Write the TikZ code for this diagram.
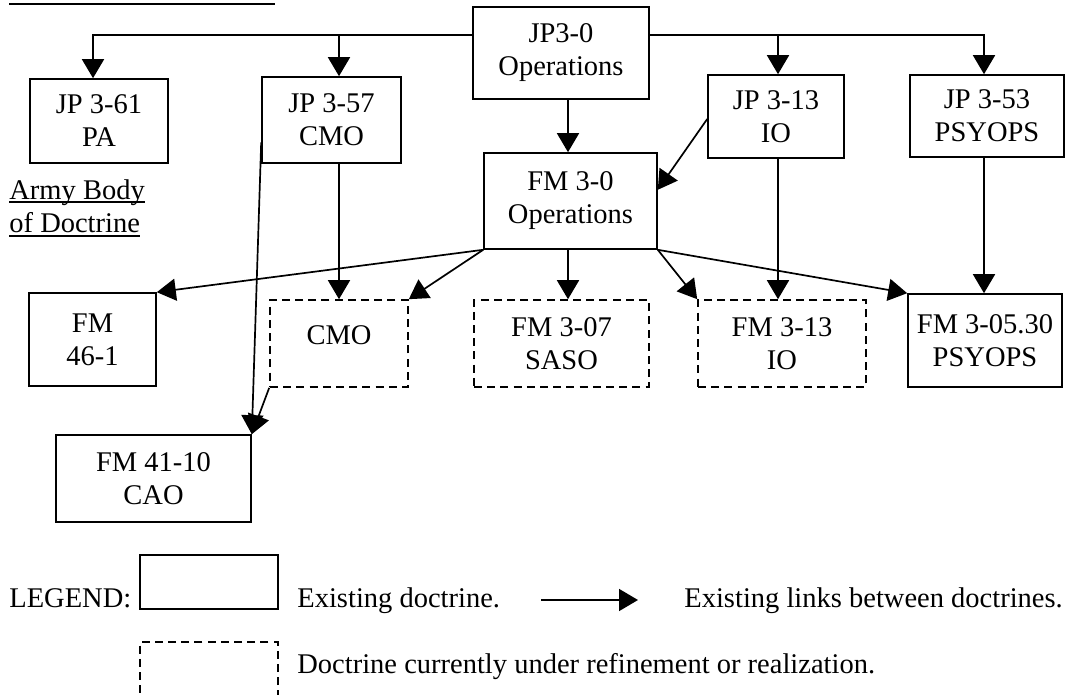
\documentclass[tikz,border=0pt]{standalone}
\usepackage{fontspec}
\setmainfont{Liberation Serif}
\usetikzlibrary{arrows.meta,calc}
\begin{document}
\begin{tikzpicture}[x=0.5pt,y=-0.5pt,
  every node/.style={font=\fontsize{14.25}{16.5}\selectfont, inner sep=0pt},
  bx/.style 2 args={minimum width=#1*0.5pt, minimum height=#2*0.5pt},
  sbox/.style={draw, line width=0.8pt, align=center},
  dbox/.style={sbox, dash pattern=on 4pt off 2.6pt},
  arr/.style={line width=0.85pt, -{Triangle[length=9.5pt,width=11pt]}},
  ln/.style={line width=0.8pt},
  lbl/.style={anchor=base west}]
\useasboundingbox (0,0) rectangle (1080,695);
\clip (0,0) rectangle (1080,695);

% boxes
\node[sbox,bx={176}{92}] (jp30) at (561,53) {JP3-0\\Operations};
\node[sbox,bx={138}{84}] (jp361) at (99,121) {JP 3-61\\PA};
\node[sbox,bx={139}{86}] (jp357) at (331.5,120) {JP 3-57\\CMO};
\node[sbox,bx={136}{83}] (jp313) at (776,116.5) {JP 3-13\\IO};
\node[sbox,bx={154}{82}] (jp353) at (987,116) {JP 3-53\\PSYOPS};
\node[sbox,bx={173}{96}] (fm30) at (570.5,201) {FM 3-0\\Operations};
\node[sbox,bx={127}{93}] (fm461) at (92.5,339.5) {FM\\46-1};
\node[dbox,bx={138}{87}] (cmo) at (339,343.5) {};
\node (cmot) at (339,335) {CMO};
\node[dbox,bx={175}{87}] (fm307) at (561.5,343.5) {FM 3-07\\SASO};
\node[dbox,bx={168}{87}] (fm313) at (782,343.5) {FM 3-13\\IO};
\node[sbox,bx={154}{93}] (fm30530) at (985,340.5) {FM 3-05.30\\PSYOPS};
\node[sbox,bx={195}{87}] (fm4110) at (153.5,478.5) {FM 41-10\\CAO};

% top bus
\coordinate (tl) at (93,35);
\coordinate (tr) at (984,35);
\coordinate (c357) at (339,35);
\coordinate (c313) at (778,35);
\coordinate (c30) at (568,0);
\draw[arr] (jp30.west |- tl) -- (tl) -- (tl |- jp361.north);
\draw[arr] (jp30.east |- tr) -- (tr) -- (tr |- jp353.north);
\draw[arr] (c357) -- (c357 |- jp357.north);
\draw[arr] (c313) -- (c313 |- jp313.north);
\draw[arr] (c30 |- jp30.south) -- (c30 |- fm30.north);
\draw[arr] ($(jp313.north west)!0.53!(jp313.south west)$) -- ($(fm30.north east)!0.385!(fm30.south east)$);

% from FM 3-0
\draw[arr] (fm30.south west) -- (fm461.north east);
\draw[arr] (fm30.south west) -- (cmo.north east);
\draw[arr] (c30 |- fm30.south) -- (c30 |- fm307.north);
\draw[arr] (fm30.south east) -- (fm313.north west);
\draw[arr] (fm30.south east) -- (fm30530.north west);

% from joint pubs down
\draw[arr] (c357 |- jp357.south) -- (c357 |- cmo.north);
\draw[arr] (c313 |- jp313.south) -- (c313 |- fm313.north);
\draw[arr] (tr |- jp353.south) -- (tr |- fm30530.north);
\draw[arr] ($(jp357.north west)!0.756!(jp357.south west)$) -- (fm4110.north east);
\draw[arr] (cmo.south west) -- (fm4110.north east);

% underlined headings
\draw[ln] (9,4) -- (275,4);
\node[lbl] (army1) at (9,199) {Army Body};
\node[lbl] (army2) at (9,233) {of Doctrine};
\draw[ln] ([yshift=-1.5pt]army1.base west) -- ([yshift=-1.5pt]army1.base east);
\draw[ln] ([yshift=-1.5pt]army2.base west) -- ([yshift=-1.5pt]army2.base east);

% legend
\node[lbl] (leg) at (9,607) {LEGEND:};
\node[sbox,bx={138}{54}] (lgs) at (209,582) {};
\node[lbl] (lgst) at (297,607) {Existing doctrine.};
\coordinate (la) at (541,600);
\coordinate (lb) at (638,600);
\draw[arr] (la) -- (lb);
\node[lbl] (lglt) at (684,607) {Existing links between doctrines.};
\node[dbox,bx={138}{90}] (lgd) at (209,687) {};
\node[lbl] (lgdt) at (297,673) {Doctrine currently under refinement or realization.};
\end{tikzpicture}
\end{document}
